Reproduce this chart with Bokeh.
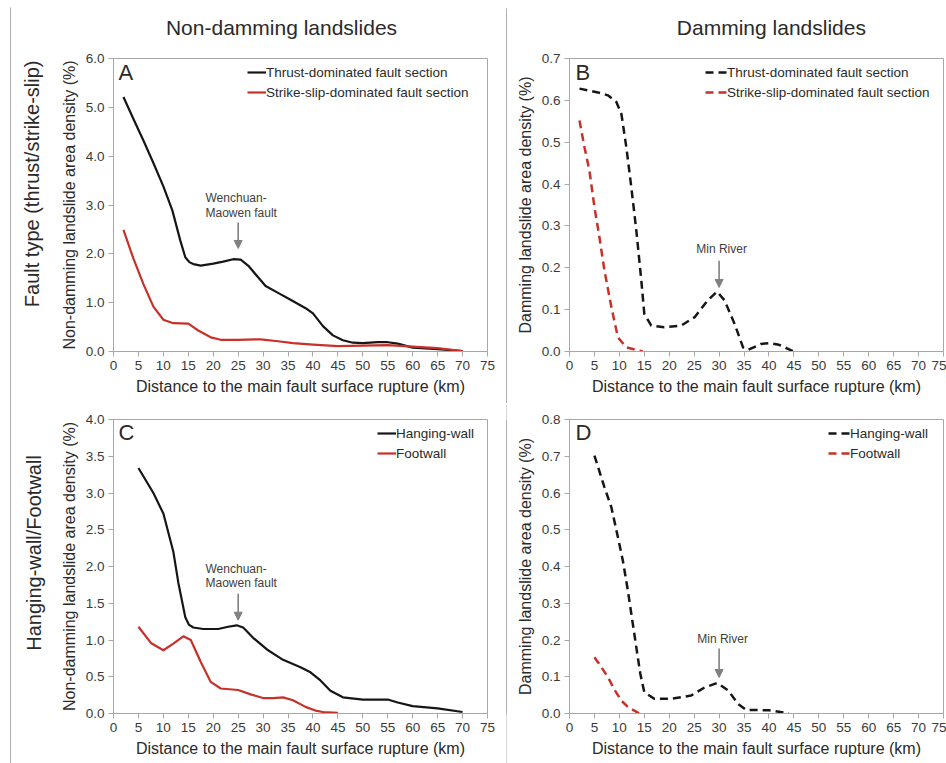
from bokeh.plotting import figure
from bokeh.layouts import column, row
from bokeh.models import (Range1d, FixedTicker, NumeralTickFormatter, Legend, LegendItem,
                          Label, Arrow, NormalHead, Spacer)
from bokeh.embed import file_html
from bokeh.resources import INLINE

# ---------------- data ----------------
x_ticks = list(range(0, 80, 5))

# Panel A: non-damming, fault type
a_thrust_x = [2, 4, 6, 8, 10, 11.8, 13.4, 14.4, 15.2, 16, 17.5, 20, 22, 24, 25.5, 27, 29, 30.5, 33, 35.5, 38.8, 40, 42, 44, 46, 48, 50, 53, 55, 57, 60, 65, 70]
a_thrust_y = [5.21, 4.76, 4.32, 3.86, 3.38, 2.89, 2.27, 1.93, 1.83, 1.79, 1.76, 1.80, 1.84, 1.89, 1.88, 1.76, 1.52, 1.34, 1.20, 1.06, 0.87, 0.78, 0.52, 0.33, 0.23, 0.18, 0.17, 0.19, 0.19, 0.16, 0.08, 0.05, 0.01]
a_strike_x = [2, 4, 6, 8, 10, 12, 15, 17, 19.5, 21.5, 25, 29.5, 33, 36, 40, 45, 50, 55, 60, 65, 70]
a_strike_y = [2.49, 1.90, 1.38, 0.92, 0.65, 0.58, 0.57, 0.43, 0.29, 0.24, 0.24, 0.25, 0.21, 0.17, 0.14, 0.11, 0.12, 0.13, 0.10, 0.07, 0.01]

# Panel B: damming, fault type
b_thrust_x = [2, 5.7, 7.7, 9.4, 10.4, 11.4, 12.4, 13.4, 14.4, 15, 16.4, 19, 22.4, 25.1, 27.7, 29.6, 31.1, 33.1, 34.8, 35.8, 38.4, 40, 42, 45]
b_thrust_y = [0.628, 0.619, 0.612, 0.596, 0.568, 0.488, 0.392, 0.289, 0.170, 0.090, 0.062, 0.058, 0.062, 0.082, 0.122, 0.143, 0.122, 0.066, 0.010, 0.004, 0.018, 0.020, 0.016, 0.0]
b_strike_x = [2, 3, 4, 5, 6, 7, 8.4, 9.7, 11.4, 14.7]
b_strike_y = [0.552, 0.488, 0.432, 0.345, 0.273, 0.194, 0.106, 0.034, 0.010, 0.0]

# Panel C: non-damming, hanging-wall / footwall
c_hanging_x = [5, 8, 10, 12, 13, 14.4, 15.1, 16, 18, 21, 23, 24.7, 26, 28, 31, 34, 37.5, 39.5, 41.5, 43.5, 46, 50, 53, 55, 57, 60, 65, 70]
c_hanging_y = [3.34, 3.0, 2.72, 2.2, 1.78, 1.31, 1.21, 1.17, 1.15, 1.15, 1.18, 1.20, 1.17, 1.03, 0.86, 0.73, 0.63, 0.56, 0.45, 0.31, 0.22, 0.19, 0.19, 0.19, 0.15, 0.10, 0.07, 0.02]
c_foot_x = [5, 7.5, 10, 12, 14, 15.5, 17.5, 19.5, 21.5, 25, 27.5, 30, 32, 34, 36, 38.5, 40.5, 42, 45]
c_foot_y = [1.18, 0.96, 0.86, 0.95, 1.05, 1.00, 0.70, 0.43, 0.34, 0.32, 0.26, 0.21, 0.21, 0.22, 0.18, 0.09, 0.04, 0.02, 0.01]

# Panel D: damming, hanging-wall / footwall
d_hanging_x = [5, 7, 8.4, 9.7, 10.7, 11.7, 12.4, 13.4, 14.2, 15, 17, 20.4, 24.4, 27, 29.6, 31.8, 33.8, 35.4, 38.4, 40, 42, 44]
d_hanging_y = [0.702, 0.616, 0.561, 0.480, 0.416, 0.335, 0.271, 0.180, 0.108, 0.058, 0.040, 0.040, 0.049, 0.070, 0.083, 0.063, 0.026, 0.010, 0.009, 0.009, 0.005, 0.0]
d_foot_x = [5, 6.3, 7.7, 9, 10.4, 11.7, 13, 14]
d_foot_y = [0.153, 0.128, 0.099, 0.065, 0.035, 0.018, 0.008, 0.0]

# ---------------- style ----------------
FONT = "Liberation Sans"
BLACK = "#161616"
RED = "#c8302a"
FRAME = "#a8a8a8"
CELL = "#606060"
TXT = "#2a2a2a"
TICKTXT = "#3a3a3a"
NOTE = "#404040"
ARROW = "#808080"
XLABEL = "Distance to the main fault surface rupture (km)"


def blank(width, height, fill="white"):
    p = figure(width=width, height=height, output_backend="svg", toolbar_location=None,
               x_range=Range1d(0, width), y_range=Range1d(0, height),
               x_axis_type=None, y_axis_type=None, min_border=0)
    p.xgrid.visible = False
    p.ygrid.visible = False
    p.outline_line_color = None
    p.background_fill_color = fill
    p.border_fill_color = fill
    return p


def text_strip(width, height, x, y, text, size, angle=0):
    p = blank(width, height)
    p.add_layout(Label(x=x, y=y, text=text, text_font=FONT, text_font_size=size,
                       text_color=TXT, text_align="center", text_baseline="middle",
                       angle=angle, angle_units="deg"))
    return p


def make_panel(width, height, mb, ymax, yticks, ylabel):
    left, right, top, bottom = mb
    p = figure(width=width, height=height, output_backend="svg", toolbar_location=None,
               x_range=Range1d(0, 75), y_range=Range1d(0, ymax),
               min_border_left=left, min_border_right=right,
               min_border_top=top, min_border_bottom=bottom)
    p.xgrid.visible = False
    p.ygrid.visible = False
    p.background_fill_color = "white"
    p.border_fill_color = "white"
    p.outline_line_color = FRAME
    p.outline_line_width = 1
    p.xaxis.ticker = FixedTicker(ticks=x_ticks)
    p.yaxis.ticker = FixedTicker(ticks=yticks)
    p.yaxis.formatter = NumeralTickFormatter(format="0.0")
    for ax in (p.xaxis[0], p.yaxis[0]):
        ax.axis_line_color = FRAME
        ax.major_tick_line_color = FRAME
        ax.minor_tick_line_color = None
        ax.major_tick_out = 5
        ax.major_tick_in = 0
        ax.major_label_text_font = FONT
        ax.major_label_text_font_size = "13.5px"
        ax.major_label_text_color = TICKTXT
        ax.major_label_standoff = 4
        ax.axis_label_text_font = FONT
        ax.axis_label_text_font_size = "16px"
        ax.axis_label_text_font_style = "normal"
        ax.axis_label_text_color = TXT
        ax.axis_label_standoff = 5
    p.xaxis.axis_label = XLABEL
    p.yaxis.axis_label = ylabel
    return p


def add_legend(p, items, loc, glyph_w):
    leg = Legend(items=[LegendItem(label=lab, renderers=[r]) for lab, r in items],
                 location=loc, orientation="vertical",
                 border_line_alpha=0, background_fill_alpha=0,
                 padding=0, margin=0, spacing=0,
                 glyph_width=glyph_w, glyph_height=20, label_height=20,
                 label_standoff=0, label_text_font=FONT,
                 label_text_font_size="13.5px", label_text_color=TXT)
    p.add_layout(leg)


def add_text(p, x, y, text, size, color, align="left"):
    p.add_layout(Label(x=x, y=y, text=text, text_font=FONT, text_font_size=size,
                       text_color=color, text_align=align, text_baseline="middle"))


def add_arrow(p, x, y0, y1):
    p.add_layout(Arrow(x_start=x, y_start=y0, x_end=x, y_end=y1,
                       line_color=ARROW, line_width=1.6,
                       end=NormalHead(size=8, fill_color=ARROW, line_color=ARROW)))


# ---------------- panel A ----------------
pA = make_panel(455, 353, (62, 19, 8, 52), 6.0, [0, 1, 2, 3, 4, 5, 6],
                "Non-damming landslide area density (%)")
rA1 = pA.line(a_thrust_x, a_thrust_y, line_color=BLACK, line_width=2.2, line_join="round")
rA2 = pA.line(a_strike_x, a_strike_y, line_color=RED, line_width=2.2, line_join="round")
add_legend(pA, [("Thrust-dominated fault section", rA1),
                ("Strike-slip-dominated fault section", rA2)], (134, 249), 19)
add_text(pA, 1.0, 5.71, "A", "22px", TXT)
add_text(pA, 18.45, 3.15, "Wenchuan-", "12px", NOTE)
add_text(pA, 18.45, 2.84, "Maowen fault", "12px", NOTE)
add_arrow(pA, 25, 2.64, 2.11)

# ---------------- panel B ----------------
pB = make_panel(439, 353, (62, 3, 8, 52), 0.7, [0, 0.1, 0.2, 0.3, 0.4, 0.5, 0.6, 0.7],
                "Damming landslide area density (%)")
rB1 = pB.line(b_thrust_x, b_thrust_y, line_color=BLACK, line_width=2.5,
              line_dash="8 5", line_join="round")
rB2 = pB.line(b_strike_x, b_strike_y, line_color=RED, line_width=2.5,
              line_dash="8 5", line_join="round")
add_legend(pB, [("Thrust-dominated fault section", rB1),
                ("Strike-slip-dominated fault section", rB2)], (136, 249), 22)
add_text(pB, 1.2, 0.667, "B", "22px", TXT)
add_text(pB, 30.5, 0.246, "Min River", "12px", NOTE, align="center")
add_arrow(pB, 30, 0.217, 0.153)

# ---------------- panel C ----------------
pC = make_panel(455, 359, (62, 19, 15, 50), 4.0, [0, 0.5, 1, 1.5, 2, 2.5, 3, 3.5, 4],
                "Non-damming landslide area density (%)")
rC1 = pC.line(c_hanging_x, c_hanging_y, line_color=BLACK, line_width=2.2, line_join="round")
rC2 = pC.line(c_foot_x, c_foot_y, line_color=RED, line_width=2.2, line_join="round")
add_legend(pC, [("Hanging-wall", rC1), ("Footwall", rC2)], (264, 250), 19)
add_text(pC, 1.0, 3.82, "C", "22px", TXT)
add_text(pC, 18.45, 1.97, "Wenchuan-", "12px", NOTE)
add_text(pC, 18.45, 1.77, "Maowen fault", "12px", NOTE)
add_arrow(pC, 25, 1.63, 1.27)

# ---------------- panel D ----------------
pD = make_panel(439, 359, (62, 3, 15, 50), 0.8, [0, 0.1, 0.2, 0.3, 0.4, 0.5, 0.6, 0.7, 0.8],
                "Damming landslide area density (%)")
rD1 = pD.line(d_hanging_x, d_hanging_y, line_color=BLACK, line_width=2.5,
              line_dash="8 5", line_join="round")
rD2 = pD.line(d_foot_x, d_foot_y, line_color=RED, line_width=2.5,
              line_dash="8 5", line_join="round")
add_legend(pD, [("Hanging-wall", rD1), ("Footwall", rD2)], (259, 250), 22)
add_text(pD, 1.2, 0.765, "D", "22px", TXT)
add_text(pD, 30.7, 0.204, "Min River", "12px", NOTE, align="center")
add_arrow(pD, 30, 0.177, 0.098)

# ---------------- headers, row labels, cell lines ----------------
hdrA = text_strip(495, 42, 270, 23, "Non-damming landslides", "21px")
hdrB = text_strip(439, 42, 237, 23, "Damming landslides", "21px")
lblA = text_strip(40, 353, 20, 202, "Fault type (thrust/strike-slip)", "20px", angle=90)
lblC = text_strip(40, 359, 22, 196, "Hanging-wall/Footwall", "20px", angle=90)

TL = column(hdrA, row(lblA, pA))
TR = column(hdrB, pB)
BL = row(lblC, pC)
BR = pD

grid = column(blank(935, 1, CELL),
              row(TL, blank(1, 395, CELL), TR),
              blank(935, 1, CELL),
              row(BL, blank(1, 359, CELL), BR))
layout = column(Spacer(width=946, height=7),
                row(Spacer(width=10, height=756), blank(1, 756, CELL), grid))

open("out.html", "w").write(file_html(layout, INLINE))
